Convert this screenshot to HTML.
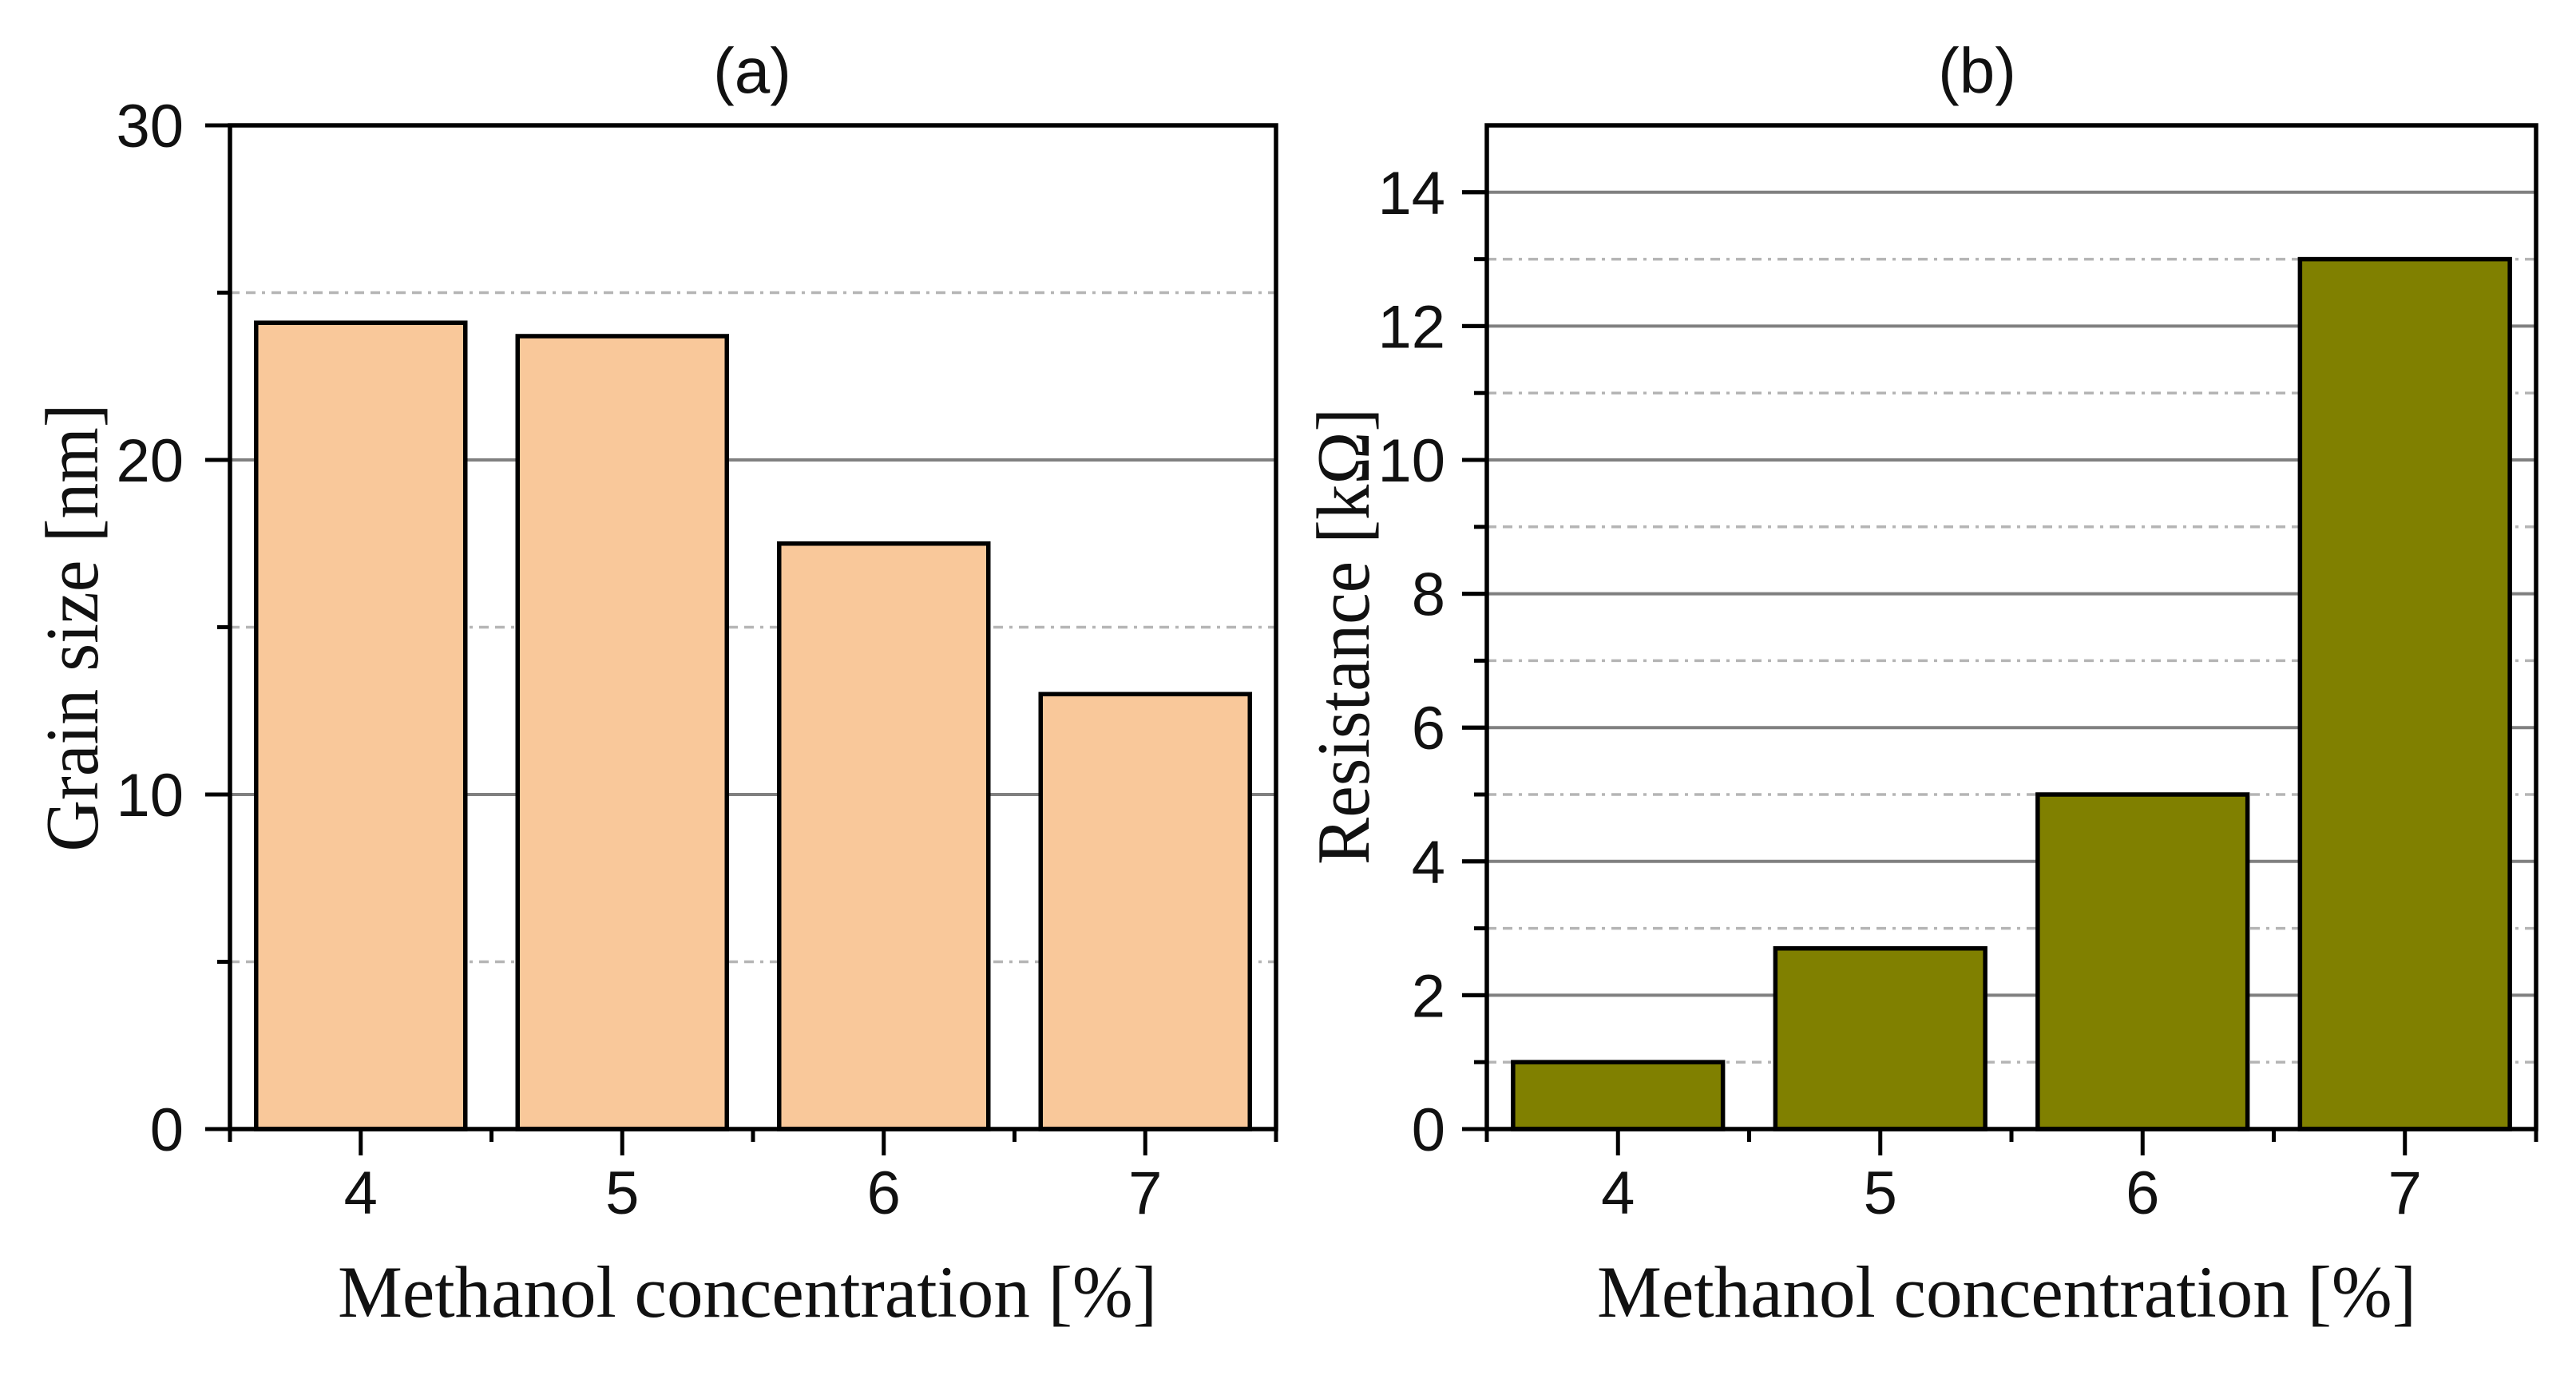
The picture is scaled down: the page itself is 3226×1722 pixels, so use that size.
<!DOCTYPE html>
<html><head><meta charset="utf-8"><style>
html,body{margin:0;padding:0;background:#fff;}
svg{display:block;}
</style></head><body>
<svg id="chart" width="3226" height="1722" viewBox="0 0 3226 1722" xmlns="http://www.w3.org/2000/svg">
<g id="pa"></g>
<g id="pb"></g>
</svg>
<script>
const categories = ["4", "5", "6", "7"];
const grainSize = [24.1, 23.7, 17.5, 13.0];
const resistance = [1.0, 2.7, 5.0, 13.0];
const ticksA = [0, 10, 20, 30];
const ticksB = [0, 2, 4, 6, 8, 10, 12, 14];

const NS = "http://www.w3.org/2000/svg";
function mk(parent, tag, attrs, text) {
  const e = document.createElementNS(NS, tag);
  for (const k in attrs) e.setAttribute(k, attrs[k]);
  if (text !== undefined) e.textContent = text;
  parent.appendChild(e);
  return e;
}

function panel(g, cfg) {
  const L = cfg.left, R = cfg.right, T = 157, B = 1414;
  const yS = v => B - (v / cfg.ymax) * (B - T);
  const cw = (R - L) / categories.length;
  const xC = i => L + cw * (i + 0.5);
  for (let v = cfg.minor; v < cfg.ymax; v += cfg.minor) {
    const isMajor = Math.abs(v / cfg.major - Math.round(v / cfg.major)) < 1e-6;
    const gl = mk(g, "line", {x1: L, x2: R, y1: yS(v), y2: yS(v),
      stroke: isMajor ? "#808080" : "#b5b5b5", "stroke-width": isMajor ? 4 : 3.5,
      "stroke-dasharray": isMajor ? "none" : "12,8,12,8,4,8"});
    
    
    const tk = mk(g, "line", {x1: L - (isMajor ? 31 : 16), x2: L, y1: yS(v), y2: yS(v), stroke: "#000", "stroke-width": 5});
    
    
  }
  cfg.values.forEach((v, i) => {
    const bw = cw * 0.8;
    const r = mk(g, "rect", {x: xC(i) - bw / 2, y: yS(v), width: bw, height: B - yS(v),
      fill: cfg.color, stroke: "#000", "stroke-width": 5.5});
    
    
  });
  const fr = mk(g, "rect", {x: L, y: T, width: R - L, height: B - T, fill: "none", stroke: "#000", "stroke-width": 5.5});
  
  
  cfg.ticks.forEach(v => {
    const tk = mk(g, "line", {x1: L - 31, x2: L, y1: yS(v), y2: yS(v), stroke: "#000", "stroke-width": 5});
    
    
    const t = mk(g, "text", {x: cfg.labelRight, y: yS(v) + 27, "text-anchor": "end",
      "font-family": "Liberation Sans, Arial, sans-serif", "font-size": 76, fill: "#111"}, String(v));
    
    
  });
  for (let i = 0; i <= categories.length; i++) {
    const x = L + cw * i;
    const tk = mk(g, "line", {x1: x, x2: x, y1: B, y2: B + 16, stroke: "#000", "stroke-width": 5});
    
    
  }
  categories.forEach((c, i) => {
    const tk = mk(g, "line", {x1: xC(i), x2: xC(i), y1: B, y2: B + 33, stroke: "#000", "stroke-width": 5});
    
    
    const t = mk(g, "text", {x: xC(i), y: 1520, "text-anchor": "middle",
      "font-family": "Liberation Sans, Arial, sans-serif", "font-size": 76, fill: "#111"}, c);
    
    
  });
  const pt = mk(g, "text", {x: cfg.titleX, y: 116, "text-anchor": "middle",
    "font-family": "Liberation Sans, Arial, sans-serif", "font-size": 80, fill: "#111"}, cfg.title);
  
  
  const xt = mk(g, "text", {x: cfg.xTitleX - 513, y: 1649, textLength: 1026, lengthAdjust: "spacingAndGlyphs",
    "font-family": "Liberation Serif, Times New Roman, serif", "font-size": 92, fill: "#111"}, "Methanol concentration [%]");
  
  
  const yt = mk(g, "text", {x: 0, y: 0, "text-anchor": "middle", textLength: cfg.yLen, lengthAdjust: "spacingAndGlyphs",
    transform: `translate(${cfg.yTitleX},${cfg.yTitleY}) rotate(-90)`,
    "font-family": "Liberation Serif, Times New Roman, serif", "font-size": 94, fill: "#111"}, cfg.yTitle);
  
  
}

panel(document.getElementById("pa"), {left: 288, right: 1598, ymax: 30, major: 10, minor: 5,
  values: grainSize, ticks: ticksA, color: "#F9C89A", labelRight: 230, title: "(a)", titleX: 942,
  xTitleX: 936, yTitle: "Grain size [nm]", yTitleX: 122, yTitleY: 786, yLen: 561});
panel(document.getElementById("pb"), {left: 1862, right: 3176, ymax: 15, major: 2, minor: 1,
  values: resistance, ticks: ticksB, color: "#808000", labelRight: 1810, title: "(b)", titleX: 2476,
  xTitleX: 2513, yTitle: "Resistance [kΩ]", yTitleX: 1714, yTitleY: 797, yLen: 572});
</script>
</body></html>
